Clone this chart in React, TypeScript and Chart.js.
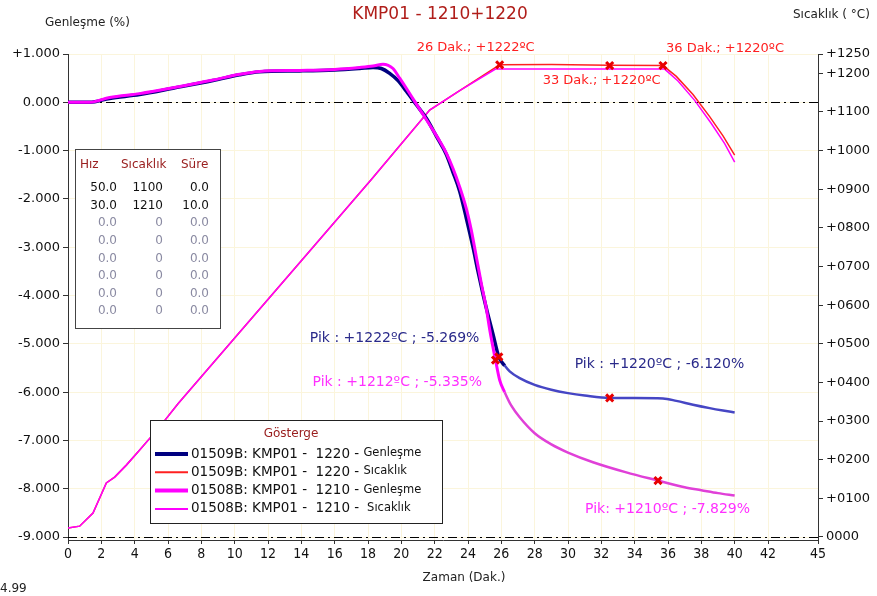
import React, { useEffect, useRef } from "react";
import { Chart, registerables } from "chart.js";

Chart.register(...registerables);

// ---------- DATA ----------
const timeExp1509 = [0, 1.3, 2.5, 4.3, 6.3, 8.7, 10.3, 11.5, 13.9, 16, 17.5, 18.3, 18.8, 19.3, 19.8, 20.3, 20.9, 21.5, 22.1, 22.7, 23.1, 23.5, 23.9, 24.3, 24.6, 24.9, 25.2, 25.5, 25.85, 26.2, 26.5, 27.1, 28, 29, 30, 31, 32.5, 34, 35.7, 36.5, 37.5, 38.5, 39.3, 40];
const exp1509 = [0, 0, 0.08, 0.16, 0.29, 0.45, 0.57, 0.63, 0.65, 0.67, 0.7, 0.72, 0.7, 0.6, 0.45, 0.23, -0.05, -0.33, -0.7, -1.08, -1.45, -1.84, -2.4, -3.0, -3.5, -3.97, -4.4, -4.8, -5.27, -5.45, -5.57, -5.71, -5.85, -5.95, -6.02, -6.07, -6.12, -6.12, -6.13, -6.18, -6.26, -6.33, -6.38, -6.42];

const timeExp1508 = [0, 1.3, 2.5, 4.3, 6.3, 8.7, 10.3, 11.5, 13.9, 16, 17.5, 18.3, 18.9, 19.5, 19.9, 20.3, 20.8, 21.3, 21.8, 22.3, 22.7, 23.1, 23.5, 23.9, 24.2, 24.5, 24.8, 25.1, 25.3, 25.65, 25.9, 26.2, 26.6, 27.1, 28, 29, 30, 31.5, 33.5, 35.4, 37, 38, 39, 40];
const exp1508 = [0, 0, 0.1, 0.18, 0.3, 0.46, 0.58, 0.64, 0.66, 0.68, 0.72, 0.75, 0.79, 0.7, 0.5, 0.29, 0.02, -0.25, -0.52, -0.8, -1.05, -1.37, -1.75, -2.2, -2.65, -3.2, -3.75, -4.27, -4.7, -5.335, -5.75, -6.0, -6.28, -6.52, -6.85, -7.08, -7.25, -7.45, -7.66, -7.83, -7.97, -8.03, -8.09, -8.14];

const timeTemp1509 = [0, 0.7, 1.5, 2.3, 2.8, 3.5, 4.3, 5.5, 6.6, 10, 14, 18.2, 21.7, 23.5, 25.9, 29, 32.5, 35.7, 36.5, 37.5, 38.5, 39.3, 40];
const temp1509 = [23, 28, 62, 140, 155, 186, 225, 285, 345, 515, 715, 925, 1105, 1155, 1222, 1223, 1221, 1220, 1192, 1145, 1088, 1038, 988];

const timeTemp1508 = [0, 0.7, 1.5, 2.3, 2.8, 3.5, 4.3, 5.5, 6.6, 10, 14, 18.2, 21.7, 23.5, 25.65, 29, 32.5, 35.8, 36.6, 37.6, 38.6, 39.4, 40];
const temp1508 = [23, 28, 62, 140, 155, 186, 225, 285, 345, 515, 715, 925, 1105, 1155, 1211, 1211, 1211, 1211, 1180, 1130, 1070, 1018, 970];

const markerTempTimes = [25.9, 32.5, 35.7];
const markerTemps = [1222, 1220, 1220];
const markerTempLabels = ["26 Dak.; +1222ºC", "33 Dak.; +1220ºC", "36 Dak.; +1220ºC"];

const markerExpTimes = [25.85, 25.65, 32.5, 35.4];
const markerExps = [-5.269, -5.335, -6.12, -7.829];
const markerExpLabels = ["Pik : +1222ºC ; -5.269%", "Pik : +1212ºC ; -5.335%", "Pik : +1220ºC ; -6.120%", "Pik: +1210ºC ; -7.829%"];

const xTicks = [0, 2, 4, 6, 8, 10, 12, 14, 16, 18, 20, 22, 24, 26, 28, 30, 32, 34, 36, 38, 40, 42, 45];
const leftTicks = [1, 0, -1, -2, -3, -4, -5, -6, -7, -8, -9];
const rightTicks = [0, 100, 200, 300, 400, 500, 600, 700, 800, 900, 1000, 1100, 1200, 1250];

const tableHeaders = ["Hız", "Sıcaklık", "Süre"];
const tableHiz = ["50.0", "30.0", "0.0", "0.0", "0.0", "0.0", "0.0", "0.0"];
const tableSicaklik = ["1100", "1210", "0", "0", "0", "0", "0", "0"];
const tableSure = ["0.0", "10.0", "0.0", "0.0", "0.0", "0.0", "0.0", "0.0"];

const legendTitle = "Gösterge";
const legendNames = ["01509B: KMP01 -  1220 - ", "01509B: KMP01 -  1220 - ", "01508B: KMP01 -  1210 - ", "01508B: KMP01 -  1210 - "];
const legendKinds = ["Genleşme", "Sıcaklık", "Genleşme", " Sıcaklık"];

const chartTitle = "KMP01 - 1210+1220";
const leftTitle = "Genleşme (%)";
const rightTitle = "Sıcaklık ( °C)";
const xTitle = "Zaman (Dak.)";
const cornerText = "4.99";

// ---------- STYLES ----------
const FONT = "'DejaVu Sans', 'Liberation Sans', sans-serif";
const NAVY = "#000080";
const NAVY_LIGHT = "#4646c4";
const MAGENTA = "#ff00ff";
const MAGENTA_LIGHT = "#e040d8";
const RED = "#ff2020";
const DARKRED = "#9a2020";

const zip = (xs: number[], ys: number[]) => xs.map((x, i) => ({ x, y: ys[i] }));

const overlayPlugin = {
  id: "overlay",
  beforeDatasetsDraw(chart: any) {
    const ctx = chart.ctx;
    const { left, right } = chart.chartArea;
    const yL = chart.scales.yL;
    ctx.save();
    ctx.strokeStyle = "#000";
    ctx.lineWidth = 1;
    ctx.setLineDash([9, 4, 2, 4]);
    for (const v of [0, -9]) {
      const y = Math.round(yL.getPixelForValue(v)) + 0.5;
      ctx.beginPath();
      ctx.moveTo(left, y);
      ctx.lineTo(right, y);
      ctx.stroke();
    }
    ctx.restore();
  },
  afterDraw(chart: any) {
    const ctx = chart.ctx;
    const xs = chart.scales.x;
    const yL = chart.scales.yL;
    const yR = chart.scales.yR;
    ctx.save();
    ctx.textBaseline = "middle";

    // Title
    ctx.fillStyle = "#b01e1a";
    ctx.font = `17px ${FONT}`;
    ctx.textAlign = "center";
    ctx.fillText(chartTitle, 440, 15);

    // Axis titles
    ctx.fillStyle = "#222";
    ctx.font = `12px ${FONT}`;
    ctx.textAlign = "left";
    ctx.fillText(leftTitle, 45, 23);
    ctx.fillText(rightTitle, 793, 15);
    ctx.textAlign = "center";
    ctx.fillText(xTitle, 464, 578);
    ctx.textAlign = "left";
    ctx.fillText(cornerText, 0, 589);

    // Temperature marker labels
    const tempOffsets = [[-83, -17], [-67, 15], [3, -17]];
    ctx.font = `13px ${FONT}`;
    ctx.fillStyle = RED;
    markerTempLabels.forEach((s, i) => {
      const px = xs.getPixelForValue(markerTempTimes[i]);
      const py = yR.getPixelForValue(markerTemps[i]);
      ctx.fillText(s, px + tempOffsets[i][0], py + tempOffsets[i][1]);
    });

    // Expansion marker labels
    const expOffsets = [[-189, -18], [-183, 22], [-35, -34], [-73, 29]];
    const expColors = ["#2a2a8a", "#ff30ff", "#2a2a8a", "#ff30ff"];
    ctx.font = `14px ${FONT}`;
    markerExpLabels.forEach((s, i) => {
      const px = xs.getPixelForValue(markerExpTimes[i]);
      const py = yL.getPixelForValue(markerExps[i]);
      ctx.fillStyle = expColors[i];
      ctx.fillText(s, px + expOffsets[i][0], py + expOffsets[i][1]);
    });

    // Program table
    ctx.fillStyle = "#fff";
    ctx.fillRect(75, 149, 145, 179);
    ctx.strokeStyle = "#444";
    ctx.lineWidth = 1;
    ctx.strokeRect(75.5, 149.5, 145, 179);
    ctx.font = `12px ${FONT}`;
    ctx.fillStyle = DARKRED;
    ctx.textAlign = "left";
    ctx.fillText(tableHeaders[0], 80, 165);
    ctx.fillText(tableHeaders[1], 121, 165);
    ctx.fillText(tableHeaders[2], 181, 165);
    ctx.textAlign = "right";
    for (let i = 0; i < tableHiz.length; i++) {
      const y = 188 + i * 17.6;
      ctx.fillStyle = i < 2 ? "#111" : "#8a8aa2";
      ctx.fillText(tableHiz[i], 117, y);
      ctx.fillText(tableSicaklik[i], 163, y);
      ctx.fillText(tableSure[i], 209, y);
    }

    // Legend
    ctx.fillStyle = "#fff";
    ctx.fillRect(150, 420, 292, 103);
    ctx.strokeStyle = "#222";
    ctx.strokeRect(150.5, 420.5, 292, 103);
    ctx.textAlign = "center";
    ctx.fillStyle = DARKRED;
    ctx.font = `12px ${FONT}`;
    ctx.fillText(legendTitle, 291, 434);
    const lColors = [NAVY, RED, MAGENTA, MAGENTA];
    const lWidths = [4, 2, 4, 2];
    ctx.textAlign = "left";
    legendNames.forEach((name, i) => {
      const y = 454 + i * 18.3;
      ctx.strokeStyle = lColors[i];
      ctx.lineWidth = lWidths[i];
      ctx.beginPath();
      ctx.moveTo(155, y);
      ctx.lineTo(188, y);
      ctx.stroke();
      ctx.fillStyle = "#111";
      ctx.font = `13.5px ${FONT}`;
      ctx.fillText(name, 191, y);
      const w = ctx.measureText(name).width;
      ctx.font = `11.5px ${FONT}`;
      ctx.fillText(legendKinds[i], 191 + w, y - 1);
    });

    ctx.restore();
  },
};

export default function App() {
  const ref = useRef<HTMLCanvasElement | null>(null);

  useEffect(() => {
    if (!ref.current) return;
    const chart = new Chart(ref.current, {
      type: "line",
      data: {
        datasets: [
          {
            type: "scatter",
            data: zip(markerExpTimes, markerExps),
            yAxisID: "yL",
            pointStyle: "crossRot",
            pointRadius: 5,
            pointBorderWidth: 3,
            pointBorderColor: "#e80000",
            showLine: false,
          } as any,
          {
            type: "scatter",
            data: zip(markerTempTimes, markerTemps),
            yAxisID: "yR",
            pointStyle: "crossRot",
            pointRadius: 5,
            pointBorderWidth: 3,
            pointBorderColor: "#e80000",
            showLine: false,
          } as any,
          {
            data: zip(timeExp1508, exp1508),
            yAxisID: "yL",
            borderColor: MAGENTA,
            borderWidth: 3,
            cubicInterpolationMode: "monotone",
            segment: {
              borderColor: (c: any) => (c.p0.parsed.x >= 26 ? MAGENTA_LIGHT : MAGENTA),
              borderWidth: (c: any) => (c.p0.parsed.x >= 26 ? 2.5 : 3),
            },
          } as any,
          {
            data: zip(timeExp1509, exp1509),
            yAxisID: "yL",
            borderColor: NAVY,
            borderWidth: 3.5,
            cubicInterpolationMode: "monotone",
            segment: {
              borderColor: (c: any) => (c.p0.parsed.x >= 26 ? NAVY_LIGHT : NAVY),
              borderWidth: (c: any) => (c.p0.parsed.x >= 26 ? 2.5 : 3.5),
            },
          } as any,
          {
            data: zip(timeTemp1508, temp1508),
            yAxisID: "yR",
            borderColor: MAGENTA,
            borderWidth: 1.5,
          },
          {
            data: zip(timeTemp1509, temp1509),
            yAxisID: "yR",
            borderColor: RED,
            borderWidth: 1.5,
          },
        ],
      },
      options: {
        animation: false,
        responsive: false,
        maintainAspectRatio: false,
        devicePixelRatio: 1,
        elements: { point: { radius: 0 }, line: { tension: 0 } },
        layout: { padding: { top: 54, left: 0, right: 0, bottom: 0 } },
        plugins: { legend: { display: false }, tooltip: { enabled: false }, title: { display: false } },
        scales: {
          x: {
            type: "linear",
            min: 0,
            max: 45,
            afterBuildTicks: (s: any) => {
              s.ticks = xTicks.map((v) => ({ value: v }));
            },
            afterFit: (s: any) => {
              s.height = 56;
            },
            ticks: {
              autoSkip: false,
              maxRotation: 0,
              padding: 2,
              color: "#111",
              font: { family: "'Liberation Sans Narrow', 'DejaVu Sans Condensed', 'Liberation Sans'", size: 14 },
              callback: (v: any) => String(v),
            },
            grid: { color: "#fbf5dc", tickColor: "#333", tickLength: 4 },
            border: { color: "#333" },
          },
          yL: {
            type: "linear",
            position: "left",
            min: -9.06,
            max: 1,
            afterBuildTicks: (s: any) => {
              s.ticks = leftTicks.map((v) => ({ value: v }));
            },
            afterFit: (s: any) => {
              s.width = 68;
            },
            ticks: {
              autoSkip: false,
              padding: 3,
              color: "#111",
              font: { family: FONT, size: 13 },
              callback: (v: any) => (v > 0 ? "+" + Number(v).toFixed(3) : Number(v).toFixed(3)),
            },
            grid: { color: "#fbf5dc", tickColor: "#333", tickLength: 5 },
            border: { color: "#333" },
          },
          yR: {
            type: "linear",
            position: "right",
            min: -7.8,
            max: 1250,
            afterBuildTicks: (s: any) => {
              s.ticks = rightTicks.map((v) => ({ value: v }));
            },
            afterFit: (s: any) => {
              s.width = 59;
            },
            ticks: {
              autoSkip: false,
              padding: 3,
              color: "#111",
              font: { family: FONT, size: 13 },
              callback: (v: any) => (Number(v) === 0 ? "0000" : "+" + String(v).padStart(4, "0")),
            },
            grid: { drawOnChartArea: false, tickColor: "#333", tickLength: 5 },
            border: { color: "#333" },
          },
        },
      },
      plugins: [overlayPlugin],
    } as any);
    return () => chart.destroy();
  }, []);

  return (
    <div style={{ position: "fixed", left: 0, top: 0, width: 877, height: 596, background: "#fff" }}>
      <canvas ref={ref} width={877} height={596} style={{ display: "block", width: 877, height: 596 }} />
    </div>
  );
}
